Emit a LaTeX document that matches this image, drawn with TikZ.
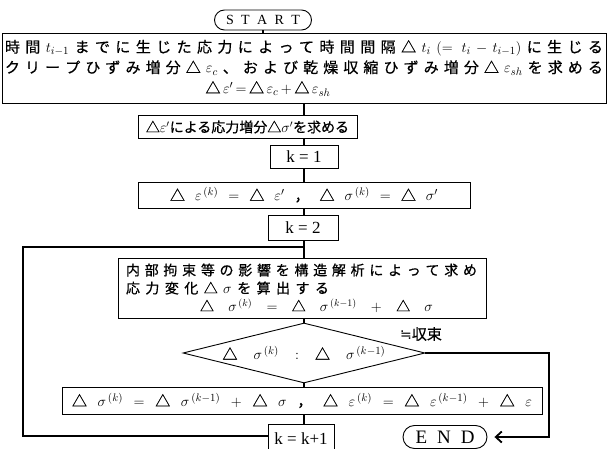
\documentclass[tikz,border=0pt]{standalone}
\usepackage{fontspec}
\setmainfont{Liberation Serif}
\newfontfamily\jp[FakeBold=0.6]{Noto Sans CJK JP}
\newfontfamily\dv{DejaVu Sans}
\usetikzlibrary{arrows.meta,shapes.misc,shapes.geometric}
\newcommand\jpf{\jp\fontsize{15}{20.5}\selectfont}
\newcommand\jps{\jp\fontsize{14}{18}\selectfont}
\newcommand\latk{\rmfamily\fontsize{17}{17}\selectfont}
\begin{document}
\begin{tikzpicture}[x=1pt,y=-1pt,
  every node/.style={inner sep=0pt, font=\jpf},
  pbox/.style={draw, line width=0.9pt, rectangle},
  term/.style={draw, line width=0.9pt, rounded rectangle},
  conn/.style={line width=1.3pt},
  loopline/.style={line width=1.8pt}]
\useasboundingbox (0,0) rectangle (608,449);
\path[clip] (0,0) rectangle (608,449);

\node[term, minimum width=97pt, minimum height=20pt, font=\rmfamily\fontsize{14}{14}\selectfont] (start) at (263,20) {\makebox[74pt][s]{S T A R T}};

\node[pbox, minimum width=604pt, minimum height=70pt, align=center] (b1) at (304,68)
 {\makebox[598pt][s]{時 間 $t_{i-1}$ ま で に 生 じ た 応 力 に よ っ て 時 間 間 隔 △ $t_i$ $(=t_i-t_{i-1})$ に 生 じ る}\\
  \makebox[598pt][s]{ク リ ー プ ひ ず み 増 分 △ $\varepsilon_c$ 、 お よ び 乾 燥 収 縮 ひ ず み 増 分 △ $\varepsilon_{sh}$ を 求 め る}\\
  \makebox[598pt]{\hspace*{-72pt}\makebox[125pt][s]{△ $\varepsilon'$ $=$ △ $\varepsilon_c$ $+$ △ $\varepsilon_{sh}$}}};

\node[pbox, minimum width=219pt, minimum height=23pt, font=\jps] (b2) at (247.5,127)
 {△$\varepsilon'$による応力増分△$\sigma'$を求める};

\node[pbox, minimum width=68pt, minimum height=23pt, font=\latk] (k1) at (304,156.5) {k = 1};

\node[pbox, minimum width=332pt, minimum height=26pt] (b4) at (304,195)
 {\makebox[268pt][s]{△ $\varepsilon^{\,(k)}$ $=$ △ $\varepsilon'$ ， △ $\sigma^{\,(k)}$ $=$ △ $\sigma'$}};

\node[pbox, minimum width=70pt, minimum height=25pt, font=\latk] (k2) at (303,227.5) {k = 2};

\coordinate (j) at (304,247);

\node[pbox, minimum width=368pt, minimum height=60pt, font=\jps] (b5) at (302,288)
 {\parbox{352pt}{\makebox[351pt][s]{内 部 拘 束 等 の 影 響 を 構 造 解 析 に よ っ て 求 め}\\
  \makebox[203pt][s]{応 力 変 化 △ $\sigma$ を 算 出 す る}\\
  \hspace*{74pt}\makebox[233pt][s]{△ $\sigma^{\,(k)}$ $=$ △ $\sigma^{\,(k-1)}$ $+$ △ $\sigma$}}};

\node[draw, diamond, line width=0.9pt, minimum width=242pt, minimum height=60pt, aspect=4] (d) at (304,353)
 {\makebox[163pt][s]{△ $\sigma^{\,(k)}$ $:$ △ $\sigma^{\,(k-1)}$}};

\node (conv) at (421,334) {{\dv\fontsize{14}{14}\selectfont ≒}収束};

\node[pbox, minimum width=480pt, minimum height=27pt] (b6) at (302,400.5)
 {\makebox[460pt][s]{△ $\sigma^{\,(k)}$ $=$ △ $\sigma^{\,(k-1)}$ $+$ △ $\sigma$ ， △ $\varepsilon^{\,(k)}$ $=$ △ $\varepsilon^{\,(k-1)}$ $+$ △ $\varepsilon$}};

\node[pbox, minimum width=66pt, minimum height=30pt, font=\latk] (kk) at (301,439) {k = k+1};

\node[term, minimum width=84pt, minimum height=23pt, font=\rmfamily\fontsize{19}{19}\selectfont] (endn) at (445,437) {\makebox[59pt][s]{E N D}};

\draw[conn] (start.south) -- (start.south |- b1.north);
\draw[conn] (b1.south -| j) -- (b2.north -| j);
\draw[conn] (b2.south -| j) -- (k1.north -| j);
\draw[conn] (k1.south -| j) -- (b4.north -| j);
\draw[conn] (b4.south -| j) -- (k2.north -| j);
\draw[conn] (k2.south -| j) -- (j) -- (b5.north -| j);
\draw[conn] (b5.south -| j) -- (d.north);
\draw[conn] (d.south) -- (b6.north -| j);
\draw[conn] (b6.south -| j) -- (kk.north -| j);

\coordinate (lc) at (23,247);
\draw[loopline] ([yshift=3pt]kk.west) -| (lc) -- (j);

\coordinate (rc) at (549,437);
\draw[loopline, -{Straight Barb[length=6pt,width=11pt]}, shorten >=7pt] (d.east) -| (rc) -- (endn.east);
\end{tikzpicture}
\end{document}
